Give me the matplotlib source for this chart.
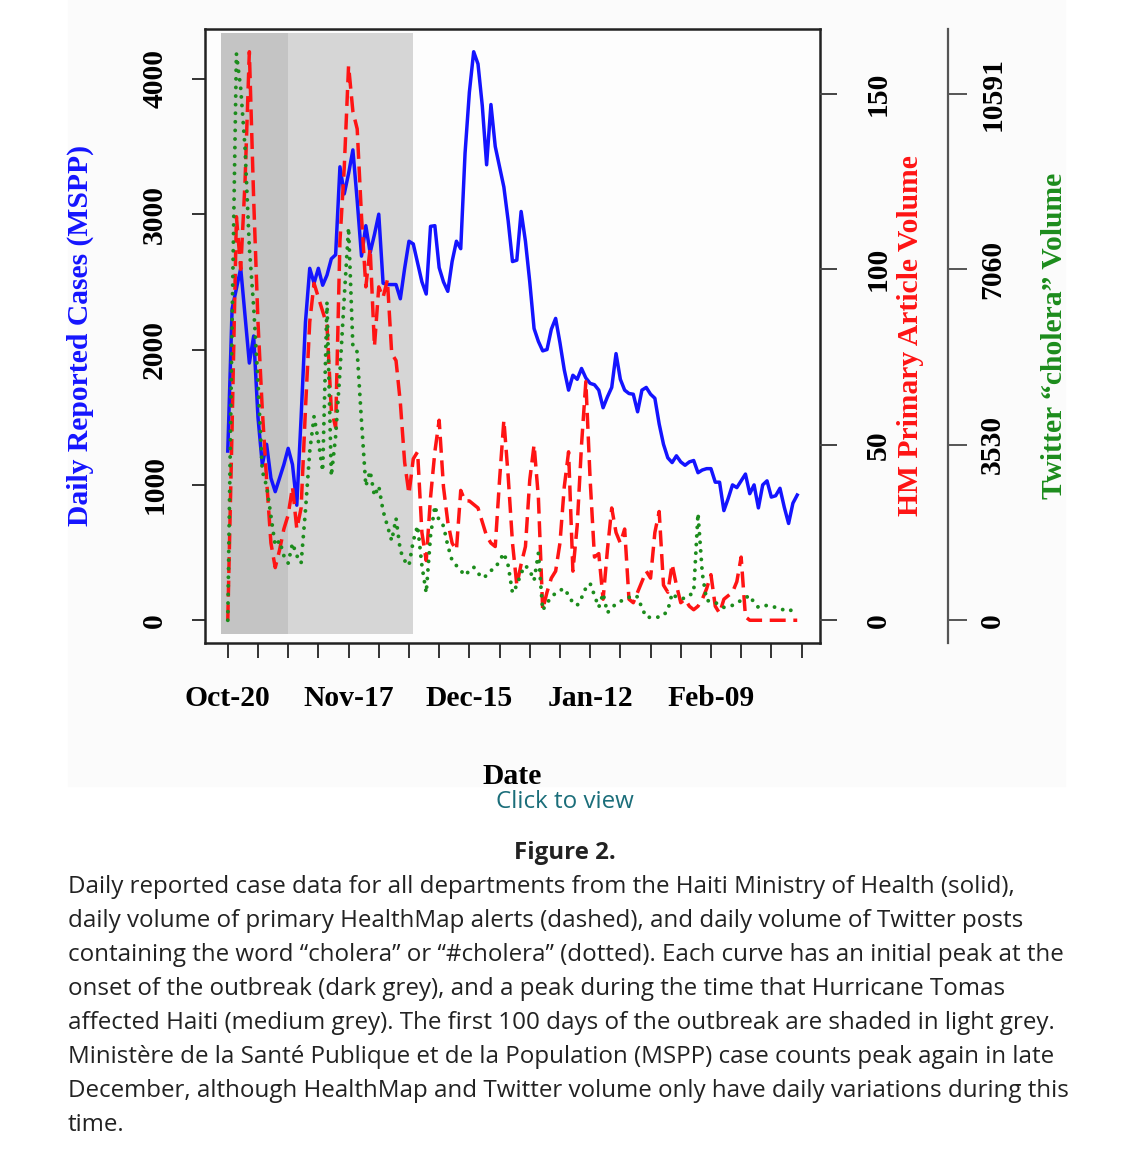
import numpy as np
import matplotlib
matplotlib.use('Agg')
import matplotlib.pyplot as plt
from matplotlib.patches import Rectangle

# daily series, day 0 = Oct-20 (2010)
cases = [1250, 2300, 2450, 2600, 2250, 1900, 2100, 1500, 1150, 1300, 1050, 950, 1050, 1150, 1270, 1150, 850,
         1500, 2200, 2600, 2490, 2600, 2475, 2550, 2670, 2700, 3350, 3150, 3300, 3475, 3100, 2690, 2915, 2715,
         2850, 3000, 2490, 2480, 2480, 2480, 2375, 2600, 2800, 2780, 2640,
         2500, 2410, 2910, 2915, 2605, 2500, 2430, 2650, 2800, 2745, 3450, 3900, 4200, 4110, 3800, 3365, 3810,
         3500, 3350, 3200, 2950, 2650, 2660, 3020, 2800, 2500, 2155, 2060,
         1990, 2000, 2150, 2230, 2050, 1850, 1700, 1810, 1780, 1860, 1790, 1750, 1740, 1700, 1570, 1650, 1720,
         1970, 1780, 1700, 1675, 1670, 1540, 1700, 1720, 1670, 1640,
         1450, 1300, 1200, 1165, 1215, 1170, 1145, 1170, 1180, 1090, 1110, 1120, 1120, 1020, 1020, 810, 900,
         1000, 980, 1030, 1080, 935, 1000, 830, 1000, 1030, 910, 920, 975, 835, 715, 865, 925]

hm_articles = [0, 55, 115, 100, 125, 162, 120, 85, 60, 40, 22, 15, 20, 26, 30, 38, 26,
               32, 60, 85, 96, 92, 88, 84, 60, 55, 108, 129, 158, 145, 140, 115, 95, 106, 78, 95, 92, 97, 76,
               74, 62, 45, 36, 46, 48,
               25, 17, 35, 48, 57, 38, 28, 22, 20, 37, 34, 34, 33, 32, 28, 24, 22, 21, 40, 57, 41, 22, 10, 16,
               21, 40, 50, 35,
               3, 8, 12, 14, 22, 38, 48, 14, 27, 50, 68, 40, 18, 19, 6, 20, 32, 25, 22, 26, 6, 5, 8, 11, 14, 12, 25,
               31, 10, 8, 16, 10, 5, 6, 4, 3, 4, 6, 9, 13, 4, 2, 6, 7, 8, 11, 18, 1,
               0, 0, 0, 0, 0, 0, 0, 0, 0, 0, 0, 0]

tweets = [0, 6000, 11400, 10700, 9500, 7500, 6300, 4800, 3000, 2700, 2100, 1500, 1600, 1300, 1150, 1550, 1300,
          1150, 2200, 3400, 4100, 3600, 3000, 6400, 2900, 3700, 5000, 6500, 7900, 5500, 5400, 4000, 2700, 3000,
          2500, 2700, 2200, 1900, 1600, 2050, 1400, 1200, 1100, 1600, 1900,
          1100, 550, 1700, 2300, 2000, 1900, 1500, 1200, 1100, 1000, 900, 1000, 1070, 950, 850, 900, 1000, 1050,
          1200, 1350, 1100, 550, 700, 950, 1100, 1000, 800, 1350,
          200, 350, 460, 550, 600, 640, 500, 350, 300, 450, 650, 740, 500, 260, 540, 150, 250, 330, 380, 420,
          460, 500, 470, 250, 60, 60, 70,
          60, 100, 200, 540, 460, 440, 440, 500, 560, 2150, 940, 400, 380, 360, 300, 260, 280, 300, 350, 400,
          450, 500, 350, 260, 280, 300, 280, 260, 240, 200, 180, 220, 300]

days = np.arange(len(cases))

onset_span = [-1.5, 14]      # dark grey
tomas_span = [14, 43]        # medium grey
date_labels = ['Oct-20', 'Nov-17', 'Dec-15', 'Jan-12', 'Feb-09']
case_ticks = [0, 1000, 2000, 3000, 4000]
hm_ticks = [0, 50, 100, 150]
tw_ticks = [0, 3530, 7060, 10591]

caption = [
    "Daily reported case data for all departments from the Haiti Ministry of Health (solid),",
    "daily volume of primary HealthMap alerts (dashed), and daily volume of Twitter posts",
    "containing the word \u201ccholera\u201d or \u201c#cholera\u201d (dotted). Each curve has an initial peak at the",
    "onset of the outbreak (dark grey), and a peak during the time that Hurricane Tomas",
    "affected Haiti (medium grey). The first 100 days of the outbreak are shaded in light grey.",
    "Minist\u00e8re de la Sant\u00e9 Publique et de la Population (MSPP) case counts peak again in late",
    "December, although HealthMap and Twitter volume only have daily variations during this",
    "time.",
]

W, H = 1130, 1162
FS = 21.3
SERIF = 'Liberation Serif'
BLUE, RED, GREEN = '#1414ff', '#ff1414', '#1c8c1c'

fig = plt.figure(figsize=(W / 100, H / 100), dpi=100)
fig.patches.append(Rectangle((68 / W, 1 - 786 / H), (1065 - 68) / W, 786 / H,
                             transform=fig.transFigure, color='#fbfbfb', zorder=-10))

ax = fig.add_axes([205 / W, 1 - 643 / H, 615 / W, 614 / H])
ax.set_facecolor('#fdfdfd')
ax2 = ax.twinx()
ax3 = ax.twinx()
# move the twitter axis out first: set_position resets the ticks
ax3.spines['right'].set_position(('axes', (948 - 205) / 615))

# shaded periods
ax.fill_between(onset_span, -100, 4340, color='#c4c4c4', lw=0, zorder=0)
ax.fill_between(tomas_span, -100, 4340, color='#d6d6d6', lw=0, zorder=0)

ax.plot(days, cases, color=BLUE, lw=2.5, solid_joinstyle='round')
ax2.plot(days, hm_articles, color=RED, lw=2.5, linestyle=(0, (4.6, 2.2)))
ax3.plot(days, tweets, color=GREEN, lw=2.8, linestyle=(0, (0.01, 2.2)), dash_capstyle='round')

n = len(days) - 1
ax.set_xlim(-0.04 * n, n * 1.04)
cmax = max(cases)
ax.set_ylim(-0.04 * cmax, 1.04 * cmax)
hmax = max(hm_articles)
ax2.set_ylim(-0.04 * hmax, 1.04 * hmax)
lo, hi = ax2.get_ylim()
ax3.set_ylim(lo * tw_ticks[-1] / hm_ticks[-1], hi * tw_ticks[-1] / hm_ticks[-1])

# x axis: weekly ticks, label every four weeks
xt = np.arange(0, 134, 7)
ax.set_xticks(xt)
ax.set_xticklabels([date_labels[i // 4] if i % 4 == 0 else '' for i in range(len(xt))],
                   fontfamily=SERIF, fontweight='bold', fontsize=FS)
ax.tick_params(axis='x', direction='out', length=11, width=1.4, color='#333333', pad=19)

ax.set_yticks(case_ticks)
ax.set_yticklabels([str(v) for v in case_ticks], rotation=90, va='center',
                   fontfamily=SERIF, fontweight='bold', fontsize=FS)
ax.tick_params(axis='y', direction='out', length=9.5, width=1.4, color='#333333', pad=17)

ax2.set_yticks(hm_ticks)
ax2.set_yticklabels([str(v) for v in hm_ticks], rotation=90, va='center',
                    fontfamily=SERIF, fontweight='bold', fontsize=FS)
ax2.tick_params(axis='y', direction='out', length=12, width=1.4, color='#444444', pad=20)

ax3.set_yticks(tw_ticks)
ax3.set_yticklabels([str(v) for v in tw_ticks], rotation=90, va='center',
                    fontfamily=SERIF, fontweight='bold', fontsize=FS)
ax3.tick_params(axis='y', direction='out', length=14, width=1.4, color='#555555', pad=8.5)

for s in ax.spines.values():
    s.set_linewidth(1.8)
    s.set_color('#222222')
for s in ax2.spines.values():
    s.set_visible(False)
for name, s in ax3.spines.items():
    s.set_visible(name == 'right')
ax3.spines['right'].set_color('#555555')
ax3.spines['right'].set_linewidth(1.6)

# axis titles
fig.text(80 / W, 1 - 336 / H, 'Daily Reported Cases (MSPP)', color=BLUE, rotation=90,
         ha='center', va='center', fontfamily=SERIF, fontweight='bold', fontsize=FS)
fig.text(910 / W, 1 - 336 / H, 'HM Primary Article Volume', color=RED, rotation=90,
         ha='center', va='center', fontfamily=SERIF, fontweight='bold', fontsize=FS)
fig.text(1055 / W, 1 - 336 / H, 'Twitter \u201ccholera\u201d Volume', color=GREEN, rotation=90,
         ha='center', va='center', fontfamily=SERIF, fontweight='bold', fontsize=FS)
fig.text(512 / W, 1 - 776 / H, 'Date', ha='center', va='center',
         fontfamily=SERIF, fontweight='bold', fontsize=FS)

# caption below the figure: size fitted to the measured line lengths
probes = [fig.text(0, 0, line, fontsize=16, fontfamily='Open Sans') for line in caption[:7]]
fig.canvas.draw()
total = sum(p.get_window_extent().width for p in probes)
cap_fs = 16 * 6794 / total
for p in probes:
    p.remove()

fig.text(565 / W, 1 - 802 / H, 'Click to view', color='#1b6e7a', ha='center', va='center',
         fontsize=cap_fs, fontfamily='Open Sans')
fig.text(565 / W, 1 - 853 / H, 'Figure 2.', color='#222222', ha='center', va='center',
         fontsize=cap_fs, fontfamily='Open Sans', fontweight='bold')
for i, line in enumerate(caption):
    fig.text(68 / W, 1 - (887 + 34 * i) / H, line, color='#222222', ha='left', va='center',
             fontsize=cap_fs, fontfamily='Open Sans')

fig.savefig('out.png', dpi=100)
